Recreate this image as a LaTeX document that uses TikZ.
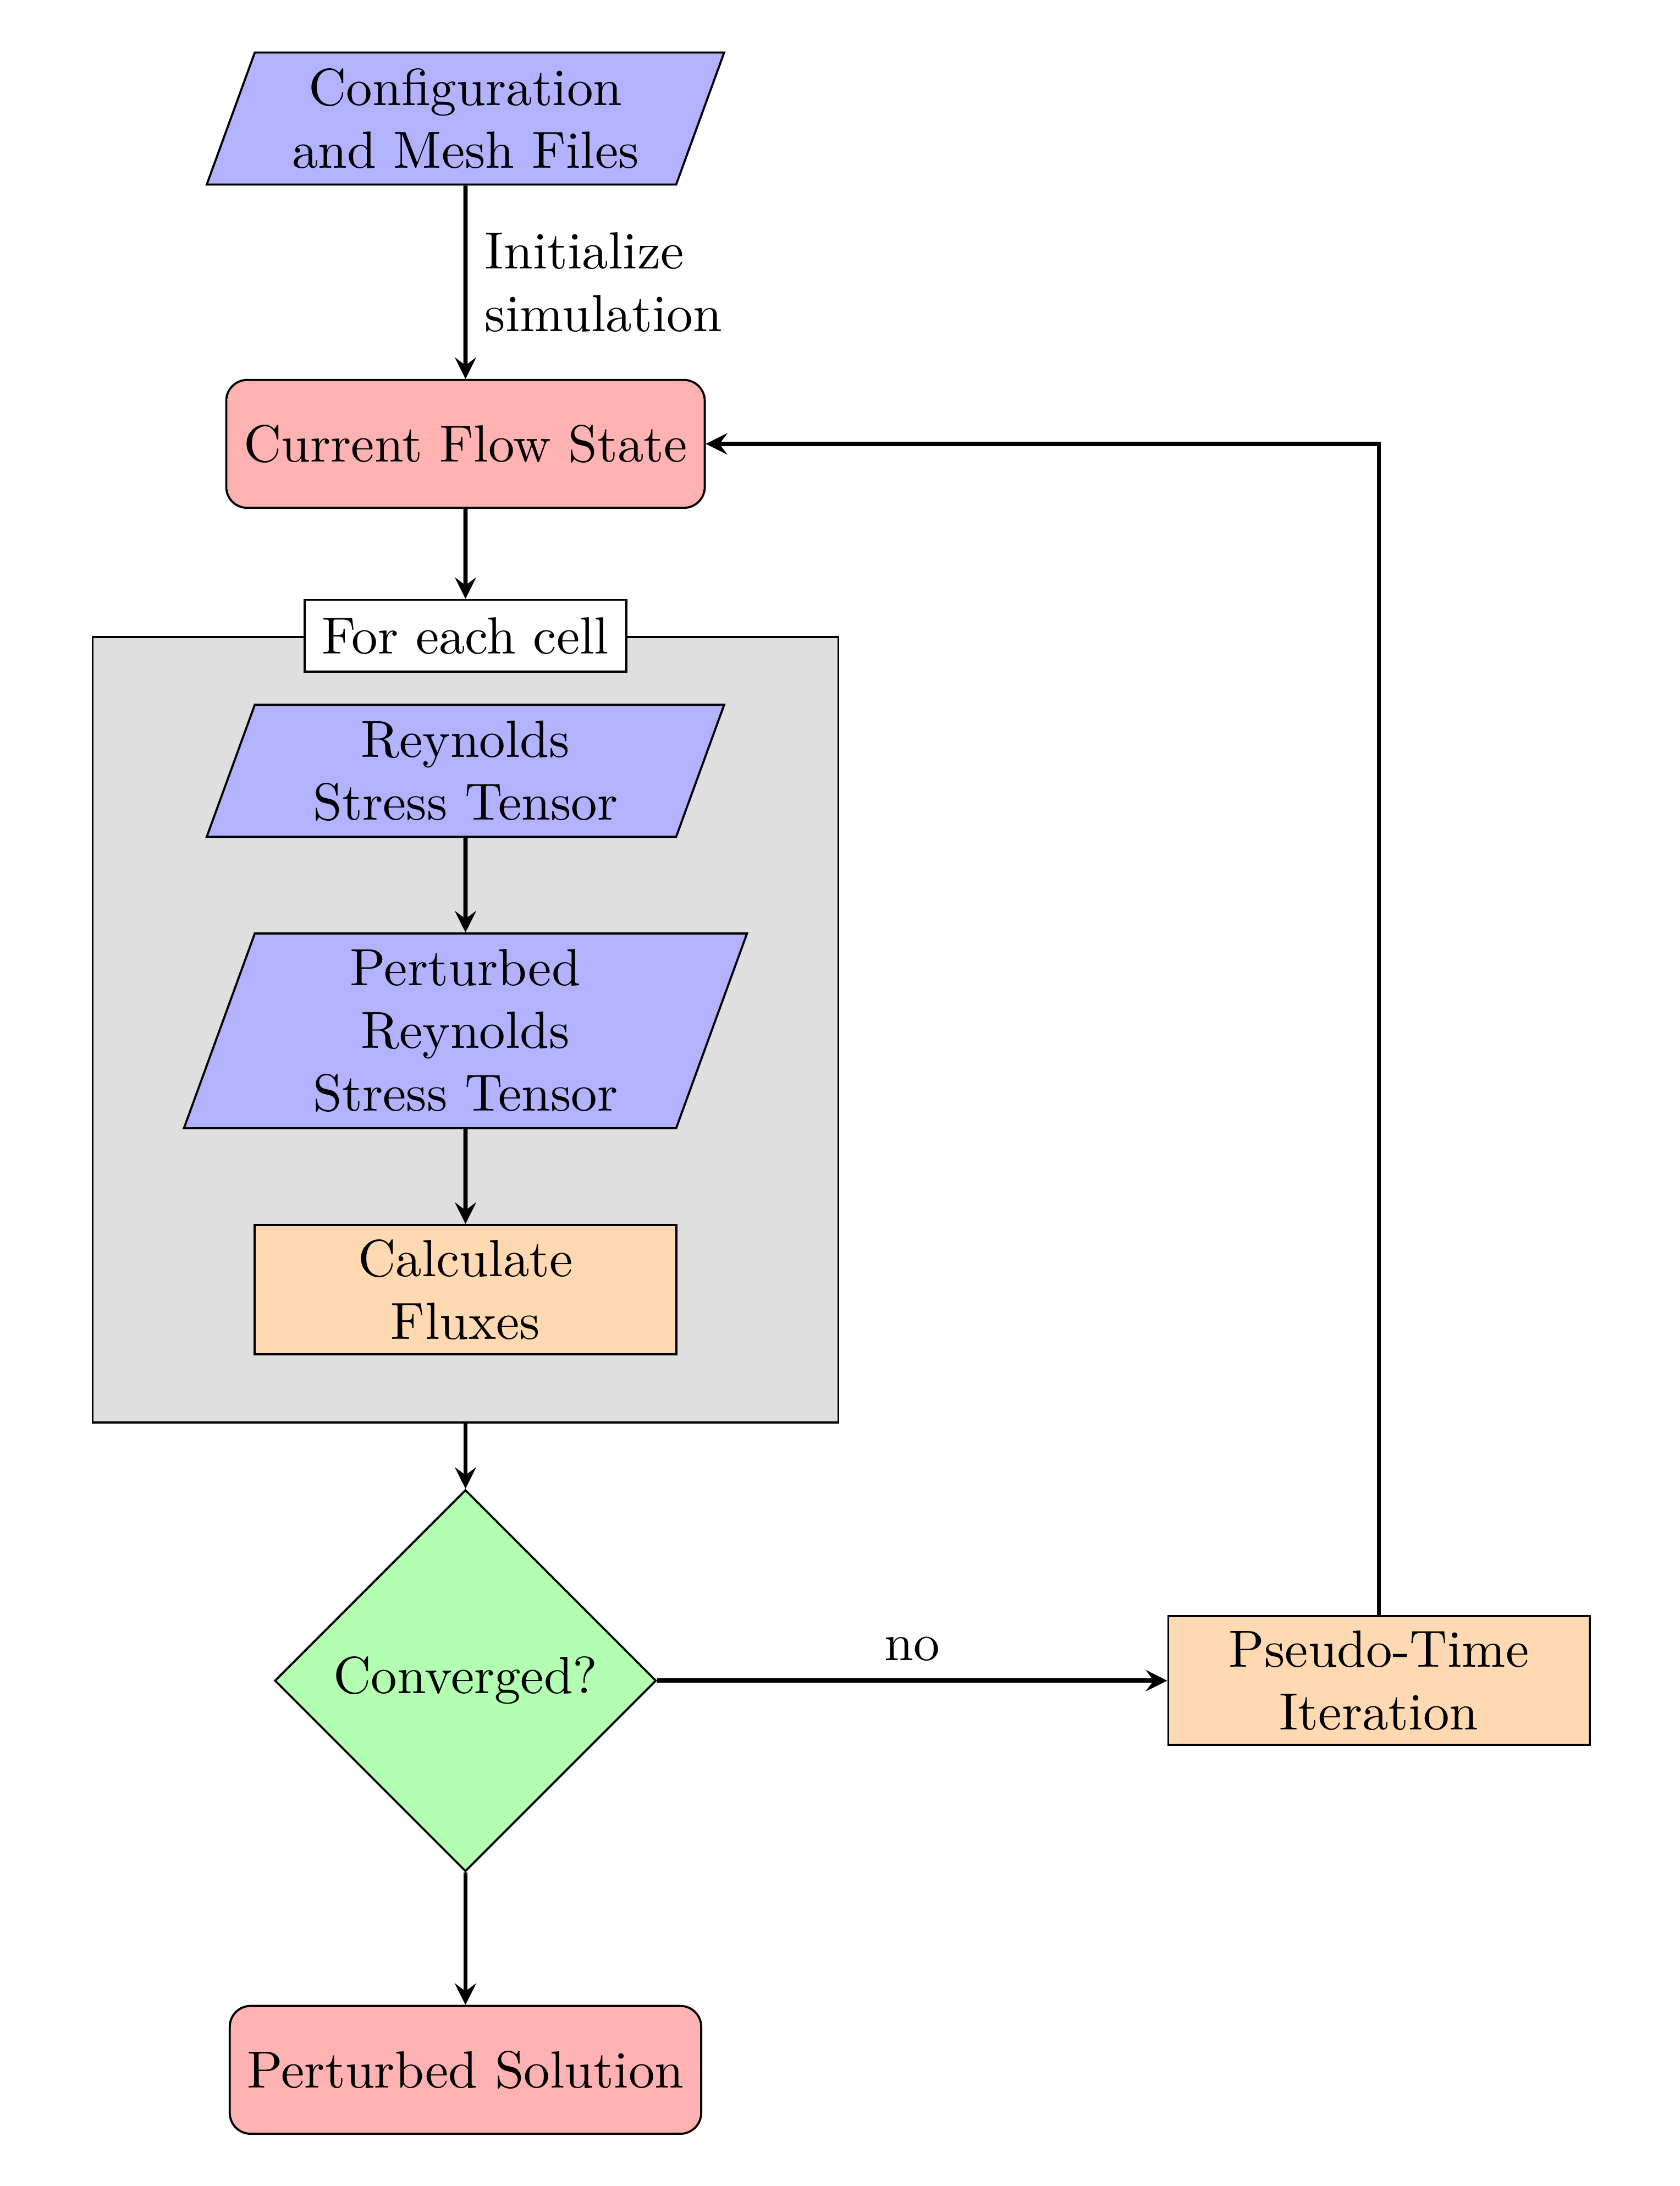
\documentclass[tikz,border=0pt]{standalone}
\usetikzlibrary{arrows,positioning,shapes,fit,backgrounds}
\begin{document}
\begin{tikzpicture}[node distance=1cm,
  io/.style={trapezium, trapezium left angle=70, trapezium right angle=110, text width=2.6cm, inner ysep=3.05pt, align=center, draw=black, fill=blue!30},
  terminal/.style={rectangle, rounded corners, minimum height=0.86cm, draw=black, fill=red!30},
  process/.style={rectangle, text width=2.6cm, inner ysep=2.8pt, align=center, minimum height=0.86cm, draw=black, fill=orange!30},
  decision/.style={diamond, aspect=1, minimum width=2.55cm, align=center, draw=black, fill=green!30},
  flow/.style={thick, ->, >=stealth}]
\useasboundingbox (0,0) rectangle (11.297,-14.70);

\node (config) [io] at (3.131,-0.797) {Configuration\\and Mesh Files};
\node (cfs) [terminal, below=1.3cm of config] {Current Flow State};

\node (reyn) [io, below=1.31cm of cfs] {Reynolds\\Stress Tensor};
\node (prst) [io, below=0.636cm of reyn] {Perturbed\\Reynolds\\Stress Tensor};
\node (flux) [process, below=0.636cm of prst] {Calculate\\Fluxes};

% cell loop
\begin{scope}[on background layer]
\node (loop) [fit=(reyn) (prst) (flux), inner xsep=0.845cm, inner ysep=0.45cm, draw=black, fill=gray!25] {};
\end{scope}
\node (cellhdr) [draw=black, fill=white] at (loop.north) {For each cell};

\node (conv) [decision, below=0.44cm of loop] {Converged?};
\node (pseudo) [process, right=3.43cm of conv] {Pseudo-Time\\Iteration};
\node (psol) [terminal, below=0.89cm of conv] {Perturbed Solution};

\draw [flow] (config) -- node[right, align=left] {Initialize\\simulation} (cfs);
\draw [flow] (cfs) -- (cellhdr);
\draw [flow] (reyn) -- (prst);
\draw [flow] (prst) -- (flux);
\draw [flow] (loop) -- (conv);
\draw [flow] (conv) -- node[above] {no} (pseudo);
\draw [flow] (pseudo) |- (cfs);
\draw [flow] (conv) -- (psol);
\end{tikzpicture}
\end{document}
